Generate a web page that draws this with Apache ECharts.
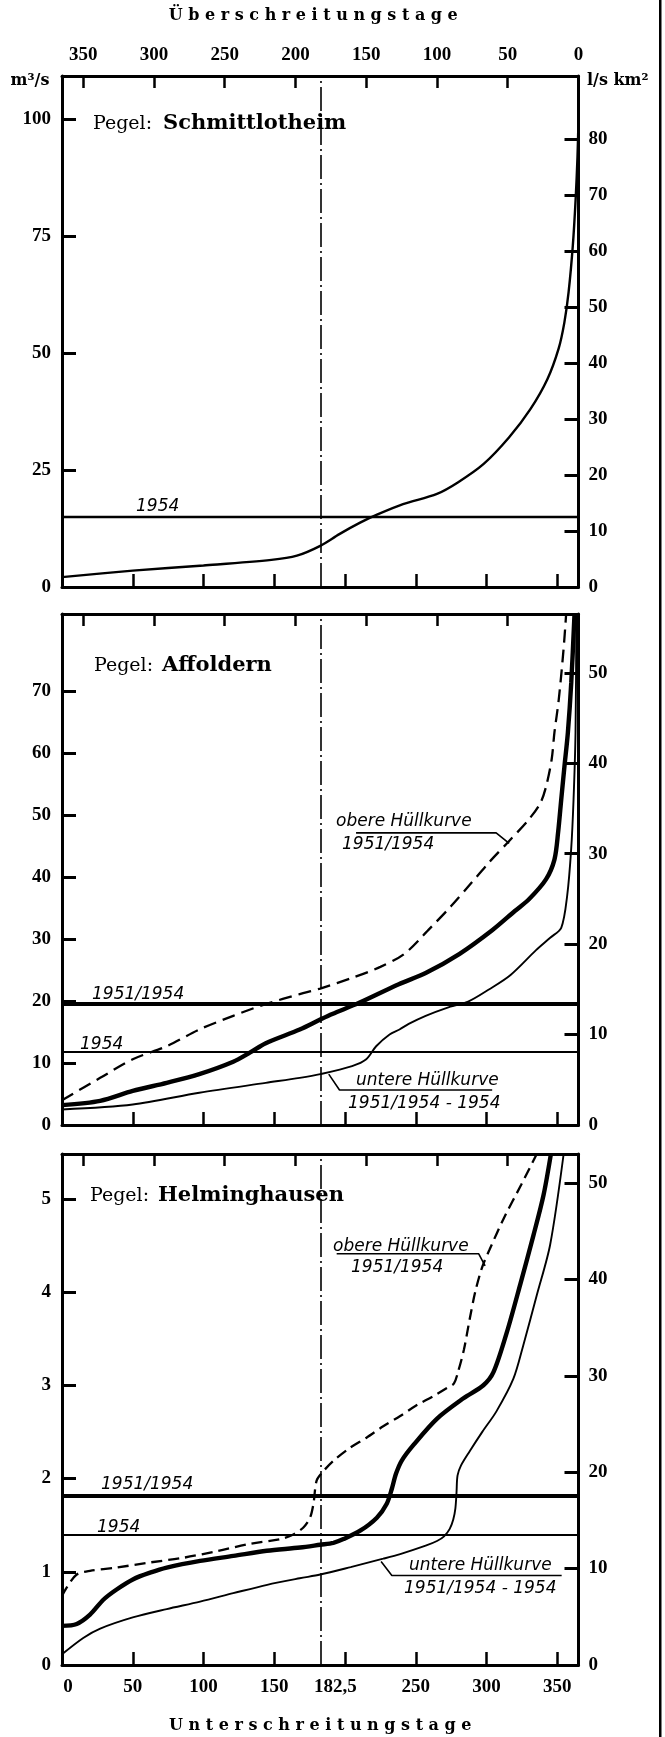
<!DOCTYPE html>
<html>
<head>
<meta charset="utf-8">
<script src="https://cdn.jsdelivr.net/npm/echarts@6/dist/echarts.min.js"></script>
<style>
html,body{margin:0;padding:0;background:#fff;}
#chart{width:665px;height:1737px;}
</style>
</head>
<body>
<div id="chart"></div>
<script>
// ---------- axis tick / label values ----------
const bottomDayTicks  = [50, 100, 150, 200, 250, 300, 350];
const bottomDayLabels = [0, 50, 100, 150, 182.5, 250, 300, 350];
const topDayTicks     = [0, 50, 100, 150, 200, 250, 300, 350];
const topDayLabels    = [0, 50, 100, 150, 200, 250, 300, 350];
const medianDay = 182.5;

const schLeftLabels  = [0, 25, 50, 75, 100];
const schRightLabels = [0, 10, 20, 30, 40, 50, 60, 70, 80];
const affLeftLabels  = [0, 10, 20, 30, 40, 50, 60, 70];
const affRightLabels = [0, 10, 20, 30, 40, 50];
const helmLeftLabels = [0, 1, 2, 3, 4, 5];
const helmRightLabels = [0, 10, 20, 30, 40, 50];

// ---------- Pegel Schmittlotheim ----------
const schDays = [0, 50, 100, 148, 166, 182.5, 196, 211, 223, 241, 265, 280, 298, 316, 331, 343, 351, 355, 358, 361, 363, 364.3, 365];
const schQ    = [2.1, 3.5, 4.6, 5.8, 6.7, 8.8, 11.3, 13.8, 15.5, 17.7, 19.9, 22.4, 26.3, 32.0, 38.0, 44.4, 51.0, 56.5, 63.0, 73.0, 83.0, 92.0, 100];
const sch1954 = 15.0;

// ---------- Pegel Affoldern ----------
const affUpperDays = [0, 27, 50, 74, 97, 121, 144, 168, 182.5, 206, 225, 242, 260, 275, 288, 302, 316, 330, 338, 342, 346, 348, 351, 354.4, 356.3];
const affUpperQ    = [4.0, 7.6, 10.6, 12.7, 15.4, 17.6, 19.5, 21.1, 22.0, 23.8, 25.5, 27.6, 31.7, 35.3, 38.7, 42.4, 45.8, 49.3, 51.9, 54.5, 58.9, 63.3, 68.5, 76.6, 82.5];
const affMeanDays  = [0, 27, 50, 74, 97, 121, 133, 144, 168, 182.5, 191, 210, 238, 257, 281, 304, 320, 330, 342, 348, 350.6, 352.8, 355.1, 357.5, 359.9, 362.2];
const affMeanQ     = [3.2, 3.9, 5.5, 6.8, 8.2, 10.2, 11.7, 13.2, 15.4, 17.0, 17.9, 19.7, 22.7, 24.5, 27.6, 31.4, 34.5, 36.4, 39.6, 42.8, 47.2, 52.5, 57.9, 63.3, 71.4, 82.5];
const affLowerDays = [0, 50, 97, 144, 168, 182.5, 205, 215, 222, 231.5, 238.5, 245, 257, 272, 287, 302, 317, 335, 345, 352.8, 357, 359.8, 361.5, 362.9, 363.5];
const affLowerQ    = [2.5, 3.3, 5.2, 6.8, 7.6, 8.2, 9.5, 10.6, 12.7, 14.6, 15.4, 16.3, 17.6, 18.9, 19.9, 21.9, 24.2, 28.2, 30.2, 31.8, 37.0, 44.4, 52.5, 63.3, 82.5];
const aff19511954 = 19.6;
const aff1954 = 11.8;
const affUpperLeaderDays = [207.8, 306.8, 316];
const affUpperLeaderQ    = [47.1, 47.1, 45.4];
const affLowerLeaderDays = [188.5, 196.1, 304];
const affLowerLeaderQ    = [8.2, 5.65, 5.65];

// ---------- Pegel Helminghausen ----------
const helmUpperDays = [0, 3.3, 10.4, 19.8, 38.6, 62.2, 85.8, 109.3, 132.9, 154.1, 163.5, 170.6, 175.3, 177.7, 180, 184.8, 191.8, 203.6, 215.4, 227, 239, 250, 262, 272, 277, 280, 284, 288, 292, 297, 302, 312.5, 324.5, 335.5];
const helmUpperQ    = [0.74, 0.83, 0.97, 1.01, 1.045, 1.10, 1.15, 1.22, 1.30, 1.35, 1.40, 1.475, 1.58, 1.73, 1.98, 2.08, 2.19, 2.33, 2.44, 2.56, 2.67, 2.78, 2.88, 2.97, 3.02, 3.15, 3.38, 3.70, 4.00, 4.27, 4.45, 4.80, 5.15, 5.48];
const helmMeanDays  = [0, 10.4, 19.8, 29.2, 38.6, 50.4, 62.2, 74, 97.6, 121.1, 144.7, 168.3, 182.5, 191.8, 198.9, 210.7, 222.5, 229.5, 233.1, 236, 240, 248.4, 264.9, 283.7, 297.8, 304.9, 314.4, 323.8, 333.2, 340.3, 345.5];
const helmMeanQ     = [0.42, 0.44, 0.54, 0.70, 0.81, 0.92, 0.99, 1.045, 1.117, 1.17, 1.225, 1.26, 1.29, 1.31, 1.35, 1.44, 1.58, 1.73, 1.89, 2.05, 2.19, 2.36, 2.64, 2.86, 3.00, 3.14, 3.57, 4.08, 4.61, 5.04, 5.48];
const helmLowerDays = [0, 15, 27, 50, 74, 97.6, 121, 145, 168, 182.5, 204, 227, 239, 257, 265, 270, 274, 276.5, 278, 278.8, 279.5, 282, 288, 297, 307, 319, 326, 335.6, 345, 354.5];
const helmLowerQ    = [0.115, 0.29, 0.39, 0.51, 0.60, 0.68, 0.77, 0.86, 0.93, 0.97, 1.05, 1.14, 1.19, 1.28, 1.33, 1.38, 1.46, 1.56, 1.68, 1.85, 2.03, 2.14, 2.29, 2.50, 2.72, 3.07, 3.43, 3.97, 4.51, 5.48];
const helm19511954 = 1.82;
const helm1954 = 1.40;
const helmUpperLeaderDays = [194.1, 294.5, 299];
const helmUpperLeaderQ    = [4.41, 4.41, 4.28];
const helmLowerLeaderDays = [225.5, 233.1, 353.1];
const helmLowerLeaderQ    = [1.11, 0.96, 0.96];

// ---------- axis extents (left m3/s, right l/s km2) ----------
const schMax = [109.2, 91.3];
const affMax = [82.4, 56.5];
const helmMax = [5.48, 53.0];

const topTitle = 'Ü b e r s c h r e i t u n g s t a g e';
const bottomTitle = 'U n t e r s c h r e i t u n g s t a g e';

// ---------- styling helpers ----------
const SERIF = '"DejaVu Serif", serif';
const TICKFONT = '"Liberation Serif", serif';
const BLACK = '#000';
const TICKSIZE = 19;

const grids = [
  {left: 62, width: 516.5, top: 76, height: 511},
  {left: 62, width: 516.5, top: 614, height: 511},
  {left: 62, width: 516.5, top: 1154, height: 511}
];

function labelStyle(extra) {
  return Object.assign({color: BLACK, fontFamily: TICKFONT, fontWeight: 'bold', fontSize: TICKSIZE}, extra || {});
}
const richTick = (pad) => ({padding: pad, color: BLACK, fontFamily: TICKFONT, fontWeight: 'bold', fontSize: TICKSIZE});

function xBottom(gi, withLabels) {
  return {
    type: 'value', gridIndex: gi, position: 'bottom', min: 0, max: 365,
    axisLine: {show: true, onZero: false, lineStyle: {color: BLACK, width: 3}},
    axisTick: {show: true, inside: true, length: 13, customValues: bottomDayTicks, lineStyle: {color: BLACK, width: 2.5}},
    axisLabel: labelStyle({
      show: withLabels, customValues: bottomDayLabels, margin: 13,
      formatter: v => v === medianDay ? '{m|182,5}' : (v === 0 ? '{z|0}' : String(v)),
      rich: {m: richTick([0, 0, 0, 30]), z: richTick([0, 0, 0, 12])}
    }),
    splitLine: {show: false},
    name: withLabels ? bottomTitle : '',
    nameLocation: 'middle', nameGap: 53,
    nameTextStyle: {color: BLACK, fontFamily: SERIF, fontWeight: 'bold', fontSize: 16}
  };
}
function xTop(gi, withLabels) {
  return {
    type: 'value', gridIndex: gi, position: 'top', inverse: true, min: 0, max: 365,
    axisLine: {show: true, onZero: false, lineStyle: {color: BLACK, width: 3}},
    axisTick: {show: true, inside: true, length: 12, customValues: topDayTicks, lineStyle: {color: BLACK, width: 2.5}},
    axisLabel: labelStyle({show: withLabels, customValues: topDayLabels, margin: 11}),
    splitLine: {show: false},
    name: withLabels ? topTitle : '',
    nameLocation: 'middle', nameGap: 52,
    nameTextStyle: {color: BLACK, fontFamily: SERIF, fontWeight: 'bold', fontSize: 16, padding: [0, 14, 0, 0]}
  };
}
function yLeft(gi, max, labels) {
  return {
    type: 'value', gridIndex: gi, position: 'left', min: 0, max: max,
    axisLine: {show: true, onZero: false, lineStyle: {color: BLACK, width: 3}},
    axisTick: {show: true, inside: true, length: 14, customValues: labels, lineStyle: {color: BLACK, width: 3}},
    axisLabel: labelStyle({customValues: labels, margin: 11, padding: [8, 0, 0, 0]}),
    splitLine: {show: false}
  };
}
function yRight(gi, max, labels) {
  return {
    type: 'value', gridIndex: gi, position: 'right', min: 0, max: max,
    axisLine: {show: true, onZero: false, lineStyle: {color: BLACK, width: 3}},
    axisTick: {show: true, inside: true, length: 14, customValues: labels, lineStyle: {color: BLACK, width: 3}},
    axisLabel: labelStyle({customValues: labels, margin: 10, padding: [5, 0, 0, 0]}),
    splitLine: {show: false}
  };
}

function pairs(xs, ys) { return xs.map((x, i) => [x, ys[i]]); }

function curve(gi, xs, ys, style, extra) {
  return Object.assign({
    type: 'line', xAxisIndex: gi * 2, yAxisIndex: gi * 2,
    data: pairs(xs, ys), symbol: 'none', showSymbol: false,
    smooth: 0.3, silent: true, z: 3,
    lineStyle: Object.assign({color: BLACK, width: 2}, style)
  }, extra || {});
}
function leader(gi, xs, ys) {
  return {
    type: 'line', xAxisIndex: gi * 2, yAxisIndex: gi * 2,
    data: pairs(xs, ys), symbol: 'none', showSymbol: false, smooth: false, silent: true, z: 3,
    lineStyle: {color: BLACK, width: 1.6}
  };
}
function refLines(values) {
  return {
    silent: true, symbol: 'none', animation: false,
    label: {show: false}, emphasis: {disabled: true},
    data: values.map(v => v.x !== undefined
      ? {xAxis: v.x, lineStyle: {color: BLACK, width: v.w, type: v.type || 'solid'}}
      : {yAxis: v.y, lineStyle: {color: BLACK, width: v.w, type: 'solid'}})
  };
}
const dashDot = [24, 4, 2, 4];

const series = [
  curve(0, schDays, schQ, {width: 2.4}, {
    markLine: refLines([{x: medianDay, w: 1.6, type: dashDot}, {y: sch1954, w: 2.3}])
  }),

  curve(1, affUpperDays, affUpperQ, {width: 2.3, type: [13, 7]}, {
    markLine: refLines([{x: medianDay, w: 1.6, type: dashDot}, {y: aff19511954, w: 4}, {y: aff1954, w: 2.2}])
  }),
  curve(1, affMeanDays, affMeanQ, {width: 4.4}),
  curve(1, affLowerDays, affLowerQ, {width: 1.9}),
  leader(1, affUpperLeaderDays, affUpperLeaderQ),
  leader(1, affLowerLeaderDays, affLowerLeaderQ),

  curve(2, helmUpperDays, helmUpperQ, {width: 2.3, type: [11, 6]}, {
    markLine: refLines([{x: medianDay, w: 1.6, type: dashDot}, {y: helm19511954, w: 4}, {y: helm1954, w: 2.2}])
  }),
  curve(2, helmMeanDays, helmMeanQ, {width: 4.4}),
  curve(2, helmLowerDays, helmLowerQ, {width: 1.9}),
  leader(2, helmUpperLeaderDays, helmUpperLeaderQ),
  leader(2, helmLowerLeaderDays, helmLowerLeaderQ)
];

function txt(x, y, text, font, align) {
  return {
    type: 'text', x: x, y: y, silent: true, z: 10,
    style: {text: text, font: font, fill: BLACK,
            align: align || 'left', verticalAlign: 'middle',
            textAlign: align || 'left', textVerticalAlign: 'middle'}
  };
}
const F_PEGEL = '19px "DejaVu Serif"';
const F_NAME = 'bold 21px "DejaVu Serif"';
const F_HAND = 'italic 17px "DejaVu Sans"';
const F_UNIT = 'bold 16px "DejaVu Serif"';

const graphic = [
  txt(30, 81, 'm³/s', F_UNIT, 'center'),
  txt(587, 81, 'l/s km²', F_UNIT, 'left'),

  txt(93, 124, 'Pegel:', F_PEGEL), txt(163, 124, 'Schmittlotheim', F_NAME),
  txt(136, 507, '1954', F_HAND),

  txt(94, 666, 'Pegel:', F_PEGEL), txt(162, 666, 'Affoldern', F_NAME),
  txt(336, 822, 'obere Hüllkurve', F_HAND),
  txt(342, 845, '1951/1954', F_HAND),
  txt(92, 995, '1951/1954', F_HAND),
  txt(80, 1045, '1954', F_HAND),
  txt(356, 1081, 'untere Hüllkurve', F_HAND),
  txt(348, 1104, '1951/1954 - 1954', F_HAND),

  txt(90, 1196, 'Pegel:', F_PEGEL), txt(158, 1196, 'Helminghausen', F_NAME),
  txt(333, 1247, 'obere Hüllkurve', F_HAND),
  txt(351, 1268, '1951/1954', F_HAND),
  txt(101, 1485, '1951/1954', F_HAND),
  txt(97, 1528, '1954', F_HAND),
  txt(409, 1566, 'untere Hüllkurve', F_HAND),
  txt(404, 1589, '1951/1954 - 1954', F_HAND),

  {type: 'rect', silent: true, shape: {x: 659, y: 0, width: 2.5, height: 1737}, style: {fill: BLACK}}
];

const option = {
  animation: false,
  backgroundColor: '#fff',
  grid: grids.map(g => Object.assign({containLabel: false, outerBoundsMode: 'none'}, g)),
  xAxis: [xBottom(0, false), xTop(0, true), xBottom(1, false), xTop(1, false), xBottom(2, true), xTop(2, false)],
  yAxis: [
    yLeft(0, schMax[0], schLeftLabels), yRight(0, schMax[1], schRightLabels),
    yLeft(1, affMax[0], affLeftLabels), yRight(1, affMax[1], affRightLabels),
    yLeft(2, helmMax[0], helmLeftLabels), yRight(2, helmMax[1], helmRightLabels)
  ],
  series: series,
  graphic: graphic
};

const chart = echarts.init(document.getElementById('chart'), null, {renderer: 'canvas'});
chart.setOption(option);
</script>
</body>
</html>
